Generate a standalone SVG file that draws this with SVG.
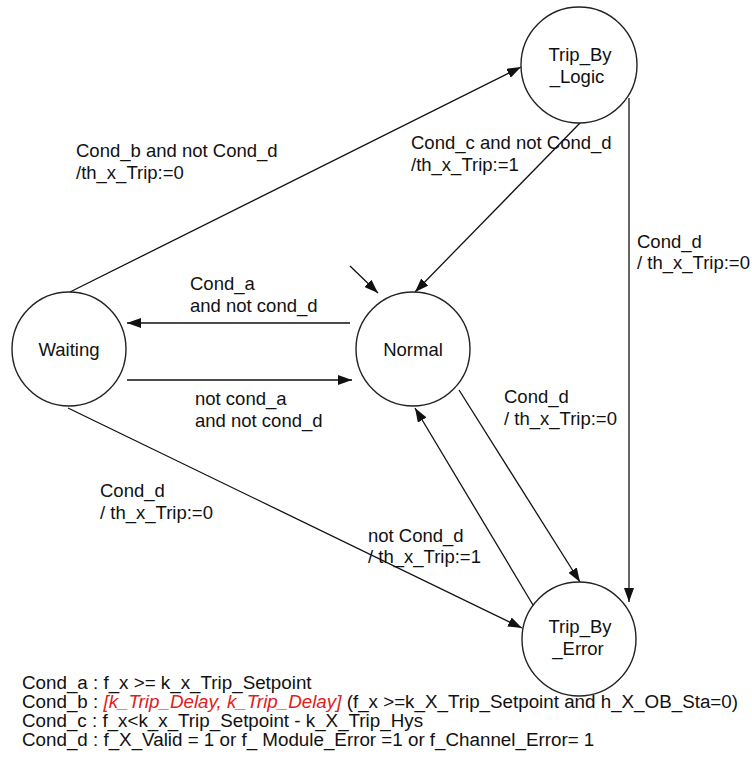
<svg xmlns="http://www.w3.org/2000/svg" width="752" height="777" viewBox="0 0 752 777">
<style>
text{font-family:"Liberation Sans",Arial,sans-serif;font-size:18.5px;fill:#111}
.node circle{fill:#fff;stroke:#222;stroke-width:1.4}
.node text{text-anchor:middle}
.conn line{stroke:#111;stroke-width:1.3;fill:none}
.legend text{font-size:18.8px}
.red{fill:#e0201a;font-style:italic}
</style>
<defs>
<marker id="arr" markerUnits="userSpaceOnUse" markerWidth="15" markerHeight="10" refX="14" refY="5" orient="auto">
<path d="M0,0 L14,5 L0,10 z" fill="#111"/>
</marker>
</defs>
<rect width="752" height="777" fill="#fff"/>
<g id="connectors" class="conn">
<line x1="70" y1="292" x2="521" y2="67" marker-end="url(#arr)"/>
<line x1="580" y1="123" x2="415" y2="292" marker-end="url(#arr)"/>
<line x1="629" y1="98" x2="629" y2="602" marker-end="url(#arr)"/>
<line x1="350" y1="323" x2="127" y2="323" marker-end="url(#arr)"/>
<line x1="127" y1="380" x2="352" y2="380" marker-end="url(#arr)"/>
<line x1="350" y1="266" x2="378" y2="293" marker-end="url(#arr)"/>
<line x1="459" y1="390" x2="580" y2="582" marker-end="url(#arr)"/>
<line x1="533" y1="605" x2="415" y2="408" marker-end="url(#arr)"/>
<line x1="68" y1="408" x2="522" y2="628" marker-end="url(#arr)"/>
</g>
<g id="labels">
<text x="76" y="157">Cond_b and not Cond_d</text>
<text x="76" y="179">/th_x_Trip:=0</text>
<text x="411" y="149">Cond_c and not Cond_d</text>
<text x="411" y="171">/th_x_Trip:=1</text>
<text x="637" y="248">Cond_d</text>
<text x="637" y="269">/ th_x_Trip:=0</text>
<text x="190" y="290">Cond_a</text>
<text x="190" y="312">and not cond_d</text>
<text x="195" y="405">not cond_a</text>
<text x="195" y="427">and not cond_d</text>
<text x="504" y="403">Cond_d</text>
<text x="504" y="425">/ th_x_Trip:=0</text>
<text x="100" y="497">Cond_d</text>
<text x="100" y="519">/ th_x_Trip:=0</text>
<text x="368" y="542">not Cond_d</text>
<text x="368" y="563">/ th_x_Trip:=1</text>
</g>
<g id="Trip_By_Logic" class="node">
<circle cx="579" cy="65" r="58"/>
<text x="580" y="61">Trip_By</text>
<text x="577" y="83">_Logic</text>
</g>
<g id="Normal" class="node">
<circle cx="413" cy="349" r="57"/>
<text x="413" y="356">Normal</text>
</g>
<g id="Waiting" class="node">
<circle cx="69" cy="349" r="57"/>
<text x="69" y="356">Waiting</text>
</g>
<g id="Trip_By_Error" class="node">
<circle cx="579" cy="639" r="57"/>
<text x="580" y="633">Trip_By</text>
<text x="578" y="655">_Error</text>
</g>
<g id="legend" class="legend">
<text x="22" y="689">Cond_a : f_x &gt;= k_x_Trip_Setpoint</text>
<text x="22" y="708">Cond_b : <tspan class="red">[k_Trip_Delay, k_Trip_Delay]</tspan> (f_x &gt;=k_X_Trip_Setpoint and h_X_OB_Sta=0)</text>
<text x="22" y="727">Cond_c : f_x&lt;k_x_Trip_Setpoint - k_X_Trip_Hys</text>
<text x="22" y="746">Cond_d : f_X_Valid = 1 or f_ Module_Error =1 or f_Channel_Error= 1</text>
</g>
</svg>
